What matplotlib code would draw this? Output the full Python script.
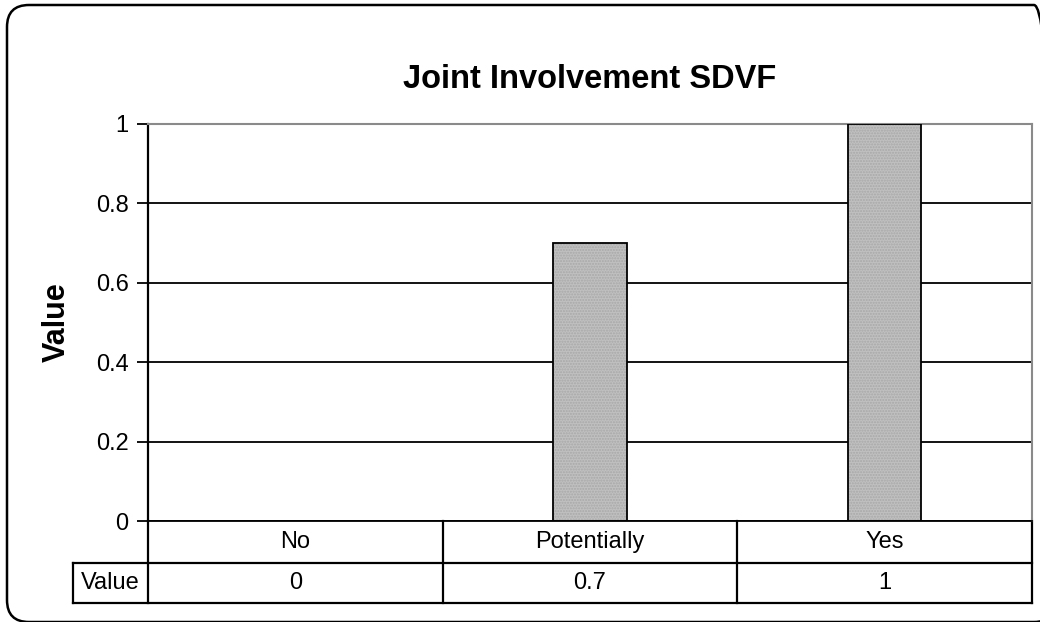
import matplotlib
matplotlib.use("Agg")
import matplotlib.pyplot as plt
from matplotlib.patches import FancyBboxPatch
from matplotlib.lines import Line2D

# Chart data
categories = ["No", "Potentially", "Yes"]
values = [0, 0.7, 1]
value_labels = ["0", "0.7", "1"]
series_name = "Value"
y_ticks = [0, 0.2, 0.4, 0.6, 0.8, 1]
y_tick_labels = ["0", "0.2", "0.4", "0.6", "0.8", "1"]
title = "Joint Involvement SDVF"
y_label = "Value"

plt.rcParams["font.family"] = ["Liberation Sans", "DejaVu Sans"]

W, H = 1040, 622
DPI = 100
fig = plt.figure(figsize=(W / DPI, H / DPI), dpi=DPI)
fig.patch.set_facecolor("white")

# Rounded outer frame, positioned in inches so the corners stay circular;
# its right and bottom sides run to the figure edge
fx0, fx1 = 7, 1056          # left / right edge (px)
fy_top, fy_bot = 5, 622     # top / bottom edge (px from top)
frame = FancyBboxPatch((fx0 / DPI, (H - fy_bot) / DPI),
                       (fx1 - fx0) / DPI, (fy_bot - fy_top) / DPI,
                       boxstyle="round,pad=0,rounding_size=0.22",
                       transform=fig.dpi_scale_trans, facecolor="none",
                       edgecolor="black", linewidth=1.8, zorder=0)
fig.patches.append(frame)

# Plot area
left, right, top, bottom = 148, 1032, 124, 521
ax = fig.add_axes([left / W, (H - bottom) / H, (right - left) / W, (bottom - top) / H])
ax.set_xlim(-0.5, len(categories) - 0.5)
ax.set_ylim(0, 1)

for y in y_ticks[:-1]:
    ax.axhline(y, color="black", linewidth=1.3, zorder=1)

x = list(range(len(categories)))
bar_w = 0.25
ax.bar(x, values, width=bar_w, color="#c0c0c0", edgecolor="#a8a8a8",
       hatch="......", linewidth=0, zorder=2)
ax.bar(x, values, width=bar_w, facecolor="none", edgecolor="black",
       linewidth=1.3, zorder=3)

for side in ("top", "right"):
    ax.spines[side].set_color("#8a8a8a")
    ax.spines[side].set_linestyle((0, (1, 1)))
    ax.spines[side].set_linewidth(1.5)
ax.spines["left"].set_linewidth(1.6)
ax.spines["bottom"].set_linewidth(1.3)

ax.set_xticks([])
ax.set_yticks(y_ticks)
ax.set_yticklabels(y_tick_labels, fontsize=17)
ax.tick_params(axis="y", direction="out", length=8, width=1.3, pad=6)

ax.set_title(title, fontsize=23.5, fontweight="bold", pad=26)
ax.set_ylabel(y_label, fontsize=22, fontweight="bold", labelpad=17)

# Data table beneath the plot area
n = len(categories)
row1 = (bottom - 563) / (bottom - top)
row2 = (bottom - 603) / (bottom - top)
label_x0 = (73 - left) / (right - left)
tkw = dict(transform=ax.transAxes, clip_on=False, color="black")
lw = 1.6
ax.add_line(Line2D([label_x0, 1], [row1, row1], linewidth=lw, **tkw))
ax.add_line(Line2D([label_x0, 1], [row2, row2], linewidth=lw, **tkw))
ax.add_line(Line2D([label_x0, label_x0], [row1, row2], linewidth=lw, **tkw))
for i in range(n + 1):
    xx = i / n
    ax.add_line(Line2D([xx, xx], [0, row2], linewidth=lw, **tkw))

for i, (cat, lab) in enumerate(zip(categories, value_labels)):
    cx = (i + 0.5) / n
    ax.text(cx, row1 / 2, cat, ha="center", va="center", fontsize=17,
            transform=ax.transAxes, clip_on=False)
    ax.text(cx, (row1 + row2) / 2, lab, ha="center", va="center", fontsize=17,
            transform=ax.transAxes, clip_on=False)
ax.text(label_x0 / 2, (row1 + row2) / 2, series_name, ha="center", va="center",
        fontsize=17, transform=ax.transAxes, clip_on=False)

fig.savefig("out.png", dpi=DPI, facecolor="white")
